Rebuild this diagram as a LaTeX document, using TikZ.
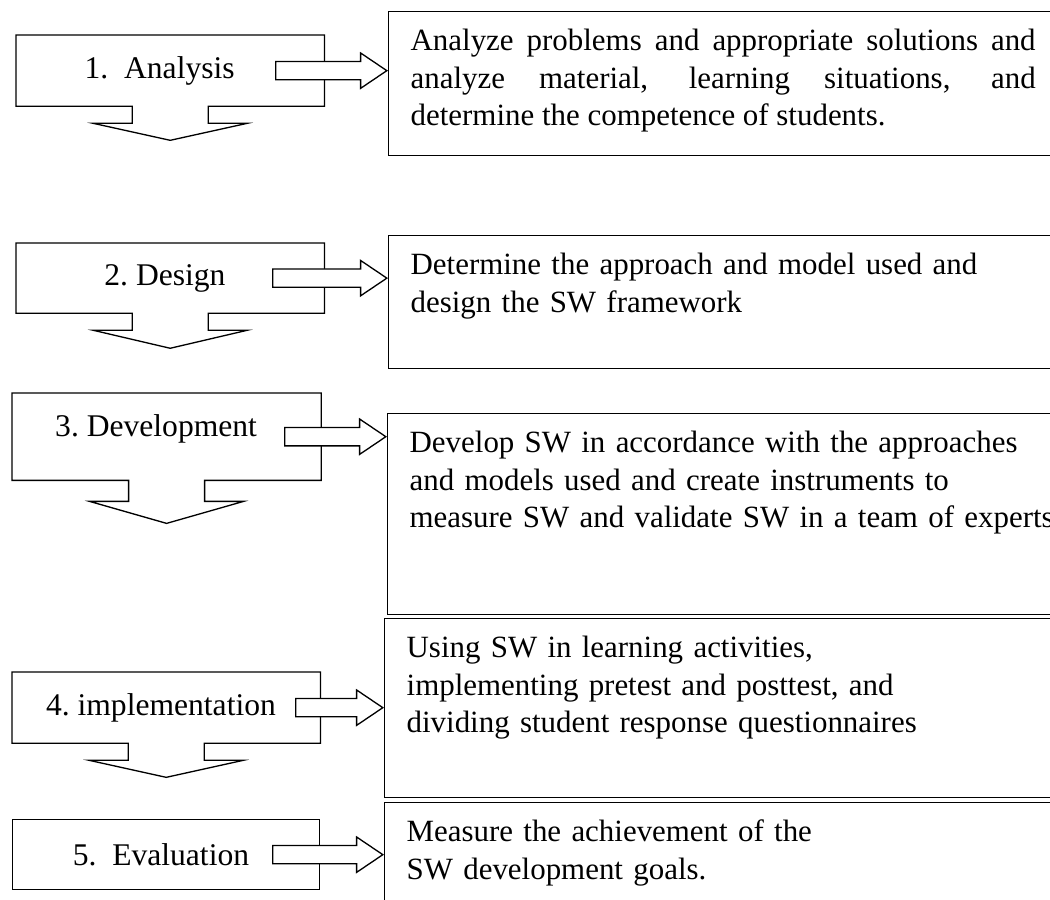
\documentclass[tikz,border=0pt]{standalone}
\usepackage{fontspec}
\setmainfont{Liberation Serif}
\usetikzlibrary{
shapes.arrows,
calc,
positioning
}

\begin{document}
\begin{tikzpicture}
[x=0.38pt, y=-0.38pt, line width=0.5pt,
stepbox/.style ={rectangle, draw=none, anchor=north west, minimum width=116.7pt, minimum height=26.6pt, inner sep=0pt, font=\fontsize{12}{14.25}\selectfont},
infobox/.style ={rectangle, draw, fill=white, anchor=north west, text width=250pt, align=left, inner xsep=8.36pt, inner ysep=0pt, text height=14.82pt, font=\fontsize{11.75}{14.25}\selectfont},
flowarrow/.style ={single arrow, draw, fill=white, anchor=tip, inner xsep=0pt, inner ysep=3.23pt, single arrow head extend=3.23pt, single arrow tip angle=68, minimum height=42pt}]

\useasboundingbox (0,0) rectangle (1050,899);
\clip (0,0) rectangle (1050,899);

%%%%%STEPS LEFT%%%%%
\node [stepbox] (l1) at (16,35) {1.\ \ Analysis\hspace*{8pt}};
\node [stepbox, minimum height=26.2pt] (l2) at (16,243) {2.\ Design\hspace*{4pt}};
\node [stepbox, minimum width=117pt, minimum height=32.7pt, text height=8pt, text depth=8pt] (l3) at (12,393) {3.\ Development\hspace*{8pt}};
\node [stepbox] (l4) at (12,672) {4.\ implementation\hspace*{4pt}};
\node [stepbox, draw] (l5) at (12,819) {5.\ \ Evaluation\hspace*{4pt}};

%%%%%BOXES RIGHT%%%%%
\node [infobox, text width=237.5pt, align=justify, text depth=39.9pt] (r1) at (388,11)
 {Analyze problems and appropriate solutions and\linebreak analyze material, learning situations, and\linebreak determine the competence of students.};
\node [infobox, text depth=35.7pt] (r2) at (388,235)
 {Determine the approach and model used and\\ design the SW framework};
\node [infobox, text depth=61.6pt] (r3) at (387,413)
 {Develop SW in accordance with the approaches\\ and models used and create instruments to\\ measure SW and validate SW in a team of experts};
\node [infobox, text depth=53.2pt] (r4) at (384,618)
 {Using SW in learning activities,\\ implementing pretest and posttest, and\\ dividing student response questionnaires};
\node [infobox, text depth=34.6pt] (r5) at (384,802)
 {Measure the achievement of the\\ SW development goals.};

%Outline with down arrow
\foreach \n/\s/\h in {1/17/17, 2/17/18, 3/21/22, 4/17/17}
 \draw (l\n.south west) -- (l\n.north west) -- (l\n.north east) -- (l\n.south east)
  -- ($(l\n.south)+(38,0)$) -- ++(0,\s) -- ++(39,0) -- ($(l\n.south)+(0,\s+\h)$)
  -- ++(-77,-\h) -- ++(39,0) -- ++(0,-\s) -- cycle;

%Arrows left to right
\foreach \n/\len in {1/111, 2/114, 3/101, 4/87, 5/110}
 \node [flowarrow, minimum height=\len*0.38pt] (a\n) at (l\n.east -| r\n.west) {};

\end{tikzpicture}
\end{document}
